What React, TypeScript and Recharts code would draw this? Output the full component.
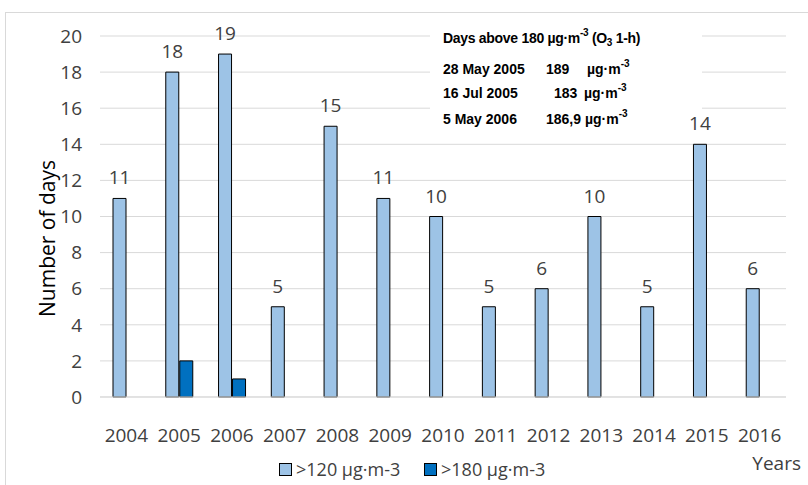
import React from "react";
import {
  BarChart,
  Bar,
  XAxis,
  YAxis,
  CartesianGrid,
  LabelList,
  Customized,
} from "recharts";

const YEARS = ["2004", "2005", "2006", "2007", "2008", "2009", "2010", "2011", "2012", "2013", "2014", "2015", "2016"];
const ABOVE_120 = [11, 18, 19, 5, 15, 11, 10, 5, 6, 10, 5, 14, 6];
const ABOVE_180: (number | null)[] = [null, 2, 1, null, null, null, null, null, null, null, null, null, null];
const Y_TICKS = [0, 2, 4, 6, 8, 10, 12, 14, 16, 18, 20];

const SERIES_NAMES = [">120 µg·m-3", ">180 µg·m-3"];
const LIGHT = "#9dc3e6";
const DARK = "#0070c0";
const TEXT = "#404040";
const FONT = "'Open Sans', 'Noto Sans', sans-serif";

const rows = YEARS.map((year, i) => ({ year, a: ABOVE_120[i], b: ABOVE_180[i] }));

function Sup({ children }: { children: string }) {
  return (
    <tspan dy={-7} fontSize={10}>
      {children}
    </tspan>
  );
}

// Annotation box with the peak hourly values, legend and the "Years" axis title.
function Overlay() {
  const f = { fontFamily: "'Liberation Sans', Arial, sans-serif", fontWeight: 700, fontSize: 14, fill: "#000" };
  return (
    <g>
      <rect x={430} y={22} width={272} height={110} fill="#fff" />
      <text x={443} y={43} {...f} letterSpacing={-0.3}>
        Days above 180 µg·m<Sup>-3</Sup>
        <tspan dy={7}> (O</tspan>
        <tspan dy={3} fontSize={10}>3</tspan>
        <tspan dy={-3}> 1-h)</tspan>
      </text>
      <text x={443} y={74} {...f}>28 May 2005</text>
      <text x={546} y={74} {...f}>189</text>
      <text x={587} y={74} {...f}>
        µg·m<Sup>-3</Sup>
      </text>
      <text x={443} y={98} {...f}>16 Jul 2005</text>
      <text x={554} y={98} {...f}>183</text>
      <text x={584} y={98} {...f}>
        µg·m<Sup>-3</Sup>
      </text>
      <text x={443} y={124} {...f}>5 May 2006</text>
      <text x={546} y={124} {...f}>
        186,9 µg·m<Sup>-3</Sup>
      </text>
      <text x={801} y={470} textAnchor="end" fontFamily={FONT} fontSize={19} fill={TEXT}>
        Years
      </text>
      {SERIES_NAMES.map((name, i) => {
        const x0 = i === 0 ? 279 : 424;
        return (
          <g key={name}>
            <rect x={x0 + 0.5} y={463.5} width={12} height={12} fill={i === 0 ? LIGHT : DARK} stroke="#000" />
            <text x={x0 + 17} y={476} fontFamily={FONT} fontSize={18} fill={TEXT}>
              {name}
            </text>
          </g>
        );
      })}
      <rect x={5.5} y={12.5} width={820} height={490} fill="none" stroke="#d9d9d9" />
    </g>
  );
}

export default function App() {
  return (
    <div style={{ position: "absolute", left: 0, top: 0, width: 808, height: 485, background: "#fff" }}>
      <BarChart
        width={808}
        height={485}
        data={rows}
        margin={{ top: 36, right: 22, bottom: 58, left: 0 }}
        barGap={1}
        barSize={13}
      >
        <CartesianGrid vertical={false} stroke="#d9d9d9" />
        <XAxis
          dataKey="year"
          height={30}
          axisLine={{ stroke: "#d9d9d9" }}
          tickLine={false}
          tick={{ fill: TEXT, fontSize: 19, fontFamily: FONT }}
          tickMargin={26}
          interval={0}
        />
        <YAxis
          width={100}
          domain={[0, 20]}
          ticks={Y_TICKS}
          interval={0}
          axisLine={false}
          tickLine={false}
          tick={{ fill: TEXT, fontSize: 19, fontFamily: FONT }}
          tickMargin={12}
          label={{
            value: "Number of days",
            angle: -90,
            position: "insideLeft",
            offset: 48,
            dy: 22,
            style: { fill: "#000", fontSize: 21, fontFamily: FONT, textAnchor: "middle" },
          }}
        />
        <Bar dataKey="a" name={SERIES_NAMES[0]} fill={LIGHT} stroke="#000" strokeWidth={1} isAnimationActive={false}>
          <LabelList dataKey="a" position="top" offset={14} fill={TEXT} fontSize={19} fontFamily={FONT} />
        </Bar>
        <Bar dataKey="b" name={SERIES_NAMES[1]} fill={DARK} stroke="#000" strokeWidth={1} isAnimationActive={false} />
        <Customized component={Overlay} />
      </BarChart>
    </div>
  );
}
